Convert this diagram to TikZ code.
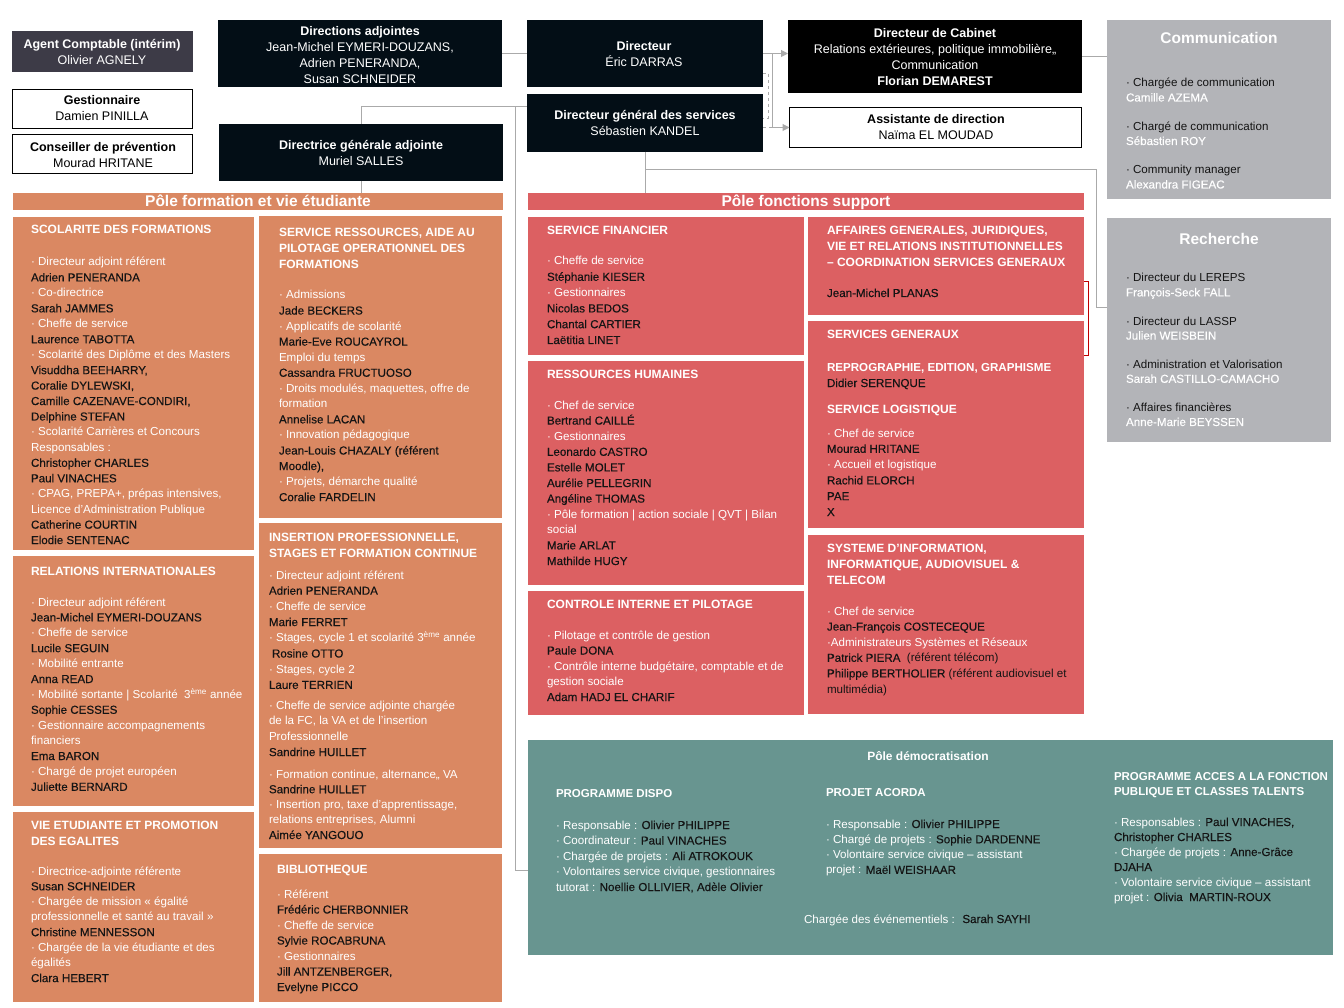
\documentclass[tikz,border=0pt]{standalone}
\usepackage{fontspec}
\setmainfont{Liberation Sans}
\newfontfamily\medf[FakeBold=0.3]{Liberation Sans}
\usetikzlibrary{arrows.meta,calc}
\definecolor{org}{RGB}{218,136,98}
\definecolor{rd}{RGB}{220,96,98}
\definecolor{hd}{RGB}{3,14,22}
\definecolor{ag}{RGB}{61,59,71}
\definecolor{gb}{RGB}{179,180,184}
\definecolor{tl}{RGB}{104,149,144}
\definecolor{ln}{RGB}{170,170,170}
\definecolor{br}{RGB}{192,0,0}
\definecolor{nm}{RGB}{20,20,20}
\newcommand\tabL[1]{\begin{tabular}[t]{@{}l@{}}#1\end{tabular}}
\newcommand\tabC[1]{\begin{tabular}[t]{@{}c@{}}#1\end{tabular}}
\newcommand\wh[1]{{\color{white}\rmfamily #1}}
\newcommand\whm[1]{{\color{white}#1}}
\newcommand\rg[1]{{\rmfamily #1}}
\newcommand\fbody[1]{\medf\fontsize{11.6}{#1}\selectfont}
\newcommand\ftit[1]{\fontsize{12}{#1}\selectfont\bfseries}
\newcommand\bx[6]{\node[boxbase,#6,minimum width=#4pt,minimum height=#5pt] (#1) at (#2,#3) {};}
\tikzset{
  boxbase/.style={anchor=north west, inner sep=0pt, outer sep=0pt},
  ctext/.style={anchor=base, inner sep=0pt, outer sep=0pt, font=\fontsize{12.5}{16}\selectfont},
  txt/.style={anchor=base west, inner sep=0pt, outer sep=0pt, text=nm},
  ttl/.style={anchor=base west, inner sep=0pt, outer sep=0pt, text=white},
  conn/.style={draw=ln, line width=1pt},
  arr/.style={-{Triangle[length=7pt,width=7pt]}},
}
\begin{document}
\begin{tikzpicture}[x=1pt,y=-1pt]
\useasboundingbox (0,0) rectangle (1344,1008);
\fill[white] (0,0) rectangle (1344,1008);

% ---------- boxes ----------
\bx{ag}{12}{31}{181}{41}{fill=ag}
\bx{gest}{12.5}{89.5}{180}{39}{draw=black,line width=1pt,fill=white}
\bx{cons}{12.5}{134.5}{180}{39}{draw=black,line width=1pt,fill=white}
\bx{dadj}{218}{20}{284}{67}{fill=hd}
\bx{dga}{219}{124}{284}{57}{fill=hd}
\bx{forb}{13}{193}{490}{17}{fill=org}
\bx{dir}{527}{20}{236}{67}{fill=hd}
\bx{dgs}{527}{94}{236}{58}{fill=hd}
\bx{cab}{788}{20}{294}{73}{fill=black}
\bx{asst}{789.5}{107.5}{292}{40}{draw=black,line width=1pt,fill=white}
\bx{supb}{528}{193}{556}{17}{fill=rd}
\bx{comm}{1107}{20}{224}{179}{fill=gb}
\bx{rech}{1107}{218}{224}{224}{fill=gb}
% orange col 1
\bx{scol}{13}{217}{241}{333}{fill=org}
\bx{ri}{13}{556}{241}{250}{fill=org}
\bx{vie}{13}{812}{241}{190}{fill=org}
% orange col 2
\bx{sres}{259}{216}{243}{302}{fill=org}
\bx{ins}{259}{523}{243}{325}{fill=org}
\bx{bib}{259}{854}{243}{148}{fill=org}
% red col 1
\bx{fin}{528}{217}{276}{138}{fill=rd}
\bx{rh}{528}{361}{276}{224}{fill=rd}
\bx{ctrl}{528}{591}{276}{124}{fill=rd}
% red col 2
\bx{aff}{808}{217}{276}{98}{fill=rd}
\bx{sg}{808}{321}{276}{207}{fill=rd}
\bx{si}{808}{535}{276}{179}{fill=rd}
% teal
\bx{teal}{528}{740}{805}{215}{fill=tl}

% ---------- connectors ----------
\coordinate (j) at ($(dir.east)+(9,0)$);
\coordinate (rin) at ($(rech.north west)+(0,90)$);
\coordinate (dgsin) at ($(dgs.north west)+(0,13)$);
\coordinate (tin) at ($(teal.north west)+(0,130)$);
\draw[conn] (dadj.east) -- (dadj.east -| dir.west);
\draw[conn,arr] (dir.east) -- (dir.east -| cab.west);
\draw[conn,arr] (j) |- (asst.west);
\draw[conn,dashed,line width=0.8pt] ($(dir.south east)+(0,-14)$) -- ++(5,0) |- ($(dgs.north east)+(0,24)$);
\draw[conn,dashed,line width=0.8pt] (dgs.east |- asst.west) -- (j |- asst.west);
\draw[conn] (cab.east) -- (cab.east -| comm.west);
\draw[conn] (dgs.south) -- (dgs.south |- supb.north);
\draw[conn] (dgs.south) -- ++(0,18) -| ([xshift=-11pt]rin) -- (rin);
\draw[conn] (dga.north) |- (dgsin);
\draw[conn] ($(dgsin)+(-12,0)$) |- (tin);
\draw[conn] (dga.south) -- (dga.south |- forb.north);
\draw[draw=br,line width=1pt] ($(aff.north east)+(0,65)$) -- ++(4,0) |- ($(sg.north east)+(0,34)$);

% ---------- header texts ----------
\node[ctext,text=white] (agT) at (102,48.5) {\tabC{\bfseries Agent Comptable (intérim)\\Olivier AGNELY}};
\node[ctext,text=black] (gestT) at (102,104.5) {\tabC{\bfseries Gestionnaire\\Damien PINILLA}};
\node[ctext,text=black] (consT) at (103,151.5) {\tabC{\bfseries Conseiller de prévention\\Mourad HRITANE}};
\node[ctext,text=white] (dadjT) at (360,35.5) {\tabC{\bfseries Directions adjointes\\Jean-Michel EYMERI-DOUZANS,\\Adrien PENERANDA,\\Susan SCHNEIDER}};
\node[ctext,text=white] (dgaT) at (361,149.5) {\tabC{\bfseries Directrice générale adjointe\\Muriel SALLES}};
\node[ctext,text=white] (dirT) at (644,50.5) {\tabC{\bfseries Directeur\\Éric DARRAS}};
\node[ctext,text=white] (dgsT) at (645,119.5) {\tabC{\bfseries Directeur général des services\\Sébastien KANDEL}};
\node[ctext,text=white] (cabT) at (935,37.5) {\tabC{\bfseries Directeur de Cabinet\\Relations extérieures, politique immobilière,,\\Communication\\\bfseries Florian DEMAREST}};
\node[ctext,text=black] (asstT) at (936,123.5) {\tabC{\bfseries Assistante de direction\\Naïma EL MOUDAD}};
\node[ctext,text=white,font=\fontsize{15.5}{18}\selectfont\bfseries] (forbT) at (258,206.5) {Pôle formation et vie étudiante};
\node[ctext,text=white,font=\fontsize{15.5}{18}\selectfont\bfseries] (supbT) at (806,206.5) {Pôle fonctions support};

% ---------- communication / recherche ----------
\node[ctext,text=white,font=\fontsize{15.5}{18}\selectfont\bfseries] (commT) at (1219,43.5) {Communication};
\node[txt,font=\fbody{14.5}] (commB) at (1126,87) {\tabL{\rg{· Chargée de communication}\\\whm{Camille AZEMA}\\[14.5pt]
\rg{· Chargé de communication}\\\whm{Sébastien ROY}\\[14.5pt]
\rg{· Community manager}\\\whm{Alexandra FIGEAC}}};
\node[ctext,text=white,font=\fontsize{15.5}{18}\selectfont\bfseries] (rechT) at (1219,244.5) {Recherche};
\node[txt,font=\fbody{14.4}] (rechB) at (1126,282) {\tabL{\rg{· Directeur du LEREPS}\\\whm{François-Seck FALL}\\[14.4pt]
\rg{· Directeur du LASSP}\\\whm{Julien WEISBEIN}\\[14.4pt]
\rg{· Administration et Valorisation}\\\whm{Sarah CASTILLO-CAMACHO}\\[14.4pt]
\rg{· Affaires financières}\\\whm{Anne-Marie BEYSSEN}}};

% ---------- orange col 1 ----------
\node[ttl,font=\ftit{16}] (scolT) at (31,233.5) {\tabL{SCOLARITE DES FORMATIONS}};
\node[txt,font=\fbody{15.45}] (scolB) at (31,266) {\tabL{\wh{· Directeur adjoint référent}\\
Adrien PENERANDA\\
\wh{· Co-directrice}\\
Sarah JAMMES\\
\wh{· Cheffe de service}\\
Laurence TABOTTA\\
\wh{· Scolarité des Diplôme et des Masters}\\
Visuddha BEEHARRY,\\
Coralie DYLEWSKI,\\
Camille CAZENAVE-CONDIRI,\\
Delphine STEFAN\\
\wh{· Scolarité Carrières et Concours}\\
\wh{Responsables :}\\
Christopher CHARLES\\
Paul VINACHES\\
\wh{· CPAG, PREPA+, prépas intensives,}\\
\wh{Licence d’Administration Publique}\\
Catherine COURTIN\\
Elodie SENTENAC}};

\node[ttl,font=\ftit{16}] (riT) at (31,575.5) {\tabL{RELATIONS INTERNATIONALES}};
\node[txt,font=\fbody{15.4}] (riB) at (31,606) {\tabL{\wh{· Directeur adjoint référent}\\
Jean-Michel EYMERI-DOUZANS\\
\wh{· Cheffe de service}\\
Lucile SEGUIN\\
\wh{· Mobilité entrante}\\
Anna READ\\
\wh{· Mobilité sortante | Scolarité~ 3\textsuperscript{ème} année}\\
Sophie CESSES\\
\wh{· Gestionnaire accompagnements}\\
\wh{financiers}\\
Ema BARON\\
\wh{· Chargé de projet européen}\\
Juliette BERNARD}};

\node[ttl,font=\ftit{16}] (vieT) at (31,829.5) {\tabL{VIE ETUDIANTE ET PROMOTION\\DES EGALITES}};
\node[txt,font=\fbody{15.3}] (vieB) at (31,875) {\tabL{\wh{· Directrice-adjointe référente}\\
Susan SCHNEIDER\\
\wh{· Chargée de mission « égalité}\\
\wh{professionnelle et santé au travail »}\\
Christine MENNESSON\\
\wh{· Chargée de la vie étudiante et des}\\
\wh{égalités}\\
Clara HEBERT}};

% ---------- orange col 2 ----------
\node[ttl,font=\ftit{16}] (sresT) at (279,236.5) {\tabL{SERVICE RESSOURCES, AIDE AU\\PILOTAGE OPERATIONNEL DES\\FORMATIONS}};
\node[txt,font=\fbody{15.55}] (sresB) at (279,299) {\tabL{\wh{· Admissions}\\
Jade BECKERS\\
\wh{· Applicatifs de scolarité}\\
Marie-Eve ROUCAYROL\\
\wh{Emploi du temps}\\
Cassandra FRUCTUOSO\\
\wh{· Droits modulés, maquettes, offre de}\\
\wh{formation}\\
Annelise LACAN\\
\wh{· Innovation pédagogique}\\
Jean-Louis CHAZALY (référent\\
Moodle),\\
\wh{· Projets, démarche qualité}\\
Coralie FARDELIN}};

\node[ttl,font=\ftit{16}] (insT) at (269,541.5) {\tabL{INSERTION PROFESSIONNELLE,\\STAGES ET FORMATION CONTINUE}};
\node[txt,font=\fbody{15.7}] (insB1) at (269,579) {\tabL{\wh{· Directeur adjoint référent}\\
Adrien PENERANDA\\
\wh{· Cheffe de service}\\
Marie FERRET\\
\wh{· Stages, cycle 1 et scolarité 3\textsuperscript{ème} année}\\
\hspace{3pt}Rosine OTTO\\
\wh{· Stages, cycle 2}\\
Laure TERRIEN}};
\node[txt,font=\fbody{15.7}] (insB2) at (269,709) {\tabL{\wh{· Cheffe de service adjointe chargée}\\
\wh{de la FC, la VA et de l’insertion}\\
\wh{Professionnelle}\\
Sandrine HUILLET}};
\node[txt,font=\fbody{15.25}] (insB3) at (269,778) {\tabL{\wh{· Formation continue, alternance,, VA}\\
Sandrine HUILLET\\
\wh{· Insertion pro, taxe d’apprentissage,}\\
\wh{relations entreprises, Alumni}\\
Aimée YANGOUO}};

\node[ttl,font=\ftit{16}] (bibT) at (277,873.5) {\tabL{BIBLIOTHEQUE}};
\node[txt,font=\fbody{15.5}] (bibB) at (277,898) {\tabL{\wh{· Référent}\\
Frédéric CHERBONNIER\\
\wh{· Cheffe de service}\\
Sylvie ROCABRUNA\\
\wh{· Gestionnaires}\\
Jill ANTZENBERGER,\\
Evelyne PICCO}};

% ---------- red col 1 ----------
\node[ttl,font=\ftit{16}] (finT) at (547,234.5) {\tabL{SERVICE FINANCIER}};
\node[txt,font=\fbody{15.8}] (finB) at (547,265) {\tabL{\wh{· Cheffe de service}\\
Stéphanie KIESER\\
\wh{· Gestionnaires}\\
Nicolas BEDOS\\
Chantal CARTIER\\
Laëtitia LINET}};

\node[ttl,font=\ftit{16}] (rhT) at (547,378.5) {\tabL{RESSOURCES HUMAINES}};
\node[txt,font=\fbody{15.6}] (rhB) at (547,409) {\tabL{\wh{· Chef de service}\\
Bertrand CAILLÉ\\
\wh{· Gestionnaires}\\
Leonardo CASTRO\\
Estelle MOLET\\
Aurélie PELLEGRIN\\
Angéline THOMAS\\
\wh{· Pôle formation | action sociale | QVT | Bilan}\\
\wh{social}\\
Marie ARLAT\\
Mathilde HUGY}};

\node[ttl,font=\ftit{16}] (ctrlT) at (547,608.5) {\tabL{CONTROLE INTERNE ET PILOTAGE}};
\node[txt,font=\fbody{15.5}] (ctrlB) at (547,639) {\tabL{\wh{· Pilotage et contrôle de gestion}\\
Paule DONA\\
\wh{· Contrôle interne budgétaire, comptable et de}\\
\wh{gestion sociale}\\
Adam HADJ EL CHARIF}};

% ---------- red col 2 ----------
\node[ttl,font=\ftit{16}] (affT) at (827,234.5) {\tabL{AFFAIRES GENERALES, JURIDIQUES,\\VIE ET RELATIONS INSTITUTIONNELLES\\– COORDINATION SERVICES GENERAUX}};
\node[txt,font=\fbody{15.5}] (affB) at (827,297) {Jean-Michel PLANAS};

\node[ttl,font=\ftit{16}] (sgT) at (827,338.5) {\tabL{SERVICES GENERAUX}};
\node[txt,font=\fbody{15.5}] (sgB1) at (827,371.5) {\tabL{{\color{white}\rmfamily\bfseries REPROGRAPHIE, EDITION, GRAPHISME}\\
Didier SERENQUE}};
\node[ttl,font=\ftit{16}] (sgT2) at (827,413.5) {\tabL{SERVICE LOGISTIQUE}};
\node[txt,font=\fbody{15.8}] (sgB2) at (827,437) {\tabL{\wh{· Chef de service}\\
Mourad HRITANE\\
\wh{· Accueil et logistique}\\
Rachid ELORCH\\
PAE\\
X}};

\node[ttl,font=\ftit{16}] (siT) at (827,552.5) {\tabL{SYSTEME D’INFORMATION,\\INFORMATIQUE, AUDIOVISUEL \&\\TELECOM}};
\node[txt,font=\fbody{15.6}] (siB) at (827,615) {\tabL{\wh{· Chef de service}\\
Jean-François COSTECEQUE\\
\wh{·Administrateurs Systèmes et Réseaux}\\
Patrick PIERA~ \rg{(référent télécom)}\\
Philippe BERTHOLIER \rg{(référent audiovisuel et}\\
\rg{multimédia)}}};

% ---------- teal ----------
\node[ctext,text=white,font=\fontsize{12}{15}\selectfont\bfseries] (tealT) at (928,760.5) {Pôle démocratisation};
\node[ttl,font=\fontsize{11.5}{15}\selectfont\bfseries] (dispoT) at (556,797) {PROGRAMME DISPO};
\node[txt,font=\fbody{15.5}] (dispoB) at (556,829) {\tabL{\wh{· Responsable : }Olivier PHILIPPE\\
\wh{· Coordinateur : }Paul VINACHES\\
\wh{· Chargée de projets : }Ali ATROKOUK\\
\wh{· Volontaires service civique, gestionnaires}\\
\wh{tutorat : }Noellie OLLIVIER, Adèle Olivier}};
\node[ttl,font=\fontsize{11.5}{15}\selectfont\bfseries] (acoT) at (826,796) {PROJET ACORDA};
\node[txt,font=\fbody{15.3}] (acoB) at (826,828) {\tabL{\wh{· Responsable : }Olivier PHILIPPE\\
\wh{· Chargé de projets : }Sophie DARDENNE\\
\wh{· Volontaire service civique – assistant}\\
\wh{projet : }Maël WEISHAAR}};
\node[ttl,font=\fontsize{11.5}{15}\selectfont\bfseries] (accT) at (1114,780) {\tabL{PROGRAMME ACCES A LA FONCTION\\PUBLIQUE ET CLASSES TALENTS}};
\node[txt,font=\fbody{15}] (accB) at (1114,826) {\tabL{\wh{· Responsables : }Paul VINACHES,\\
Christopher CHARLES\\
\wh{· Chargée de projets : }Anne-Grâce\\
DJAHA\\
\wh{· Volontaire service civique – assistant}\\
\wh{projet : }Olivia~ MARTIN-ROUX}};
\node[txt,font=\fbody{15}] (evtB) at (804,923) {\wh{Chargée des événementiels : }~Sarah SAYHI};
\end{tikzpicture}
\end{document}
